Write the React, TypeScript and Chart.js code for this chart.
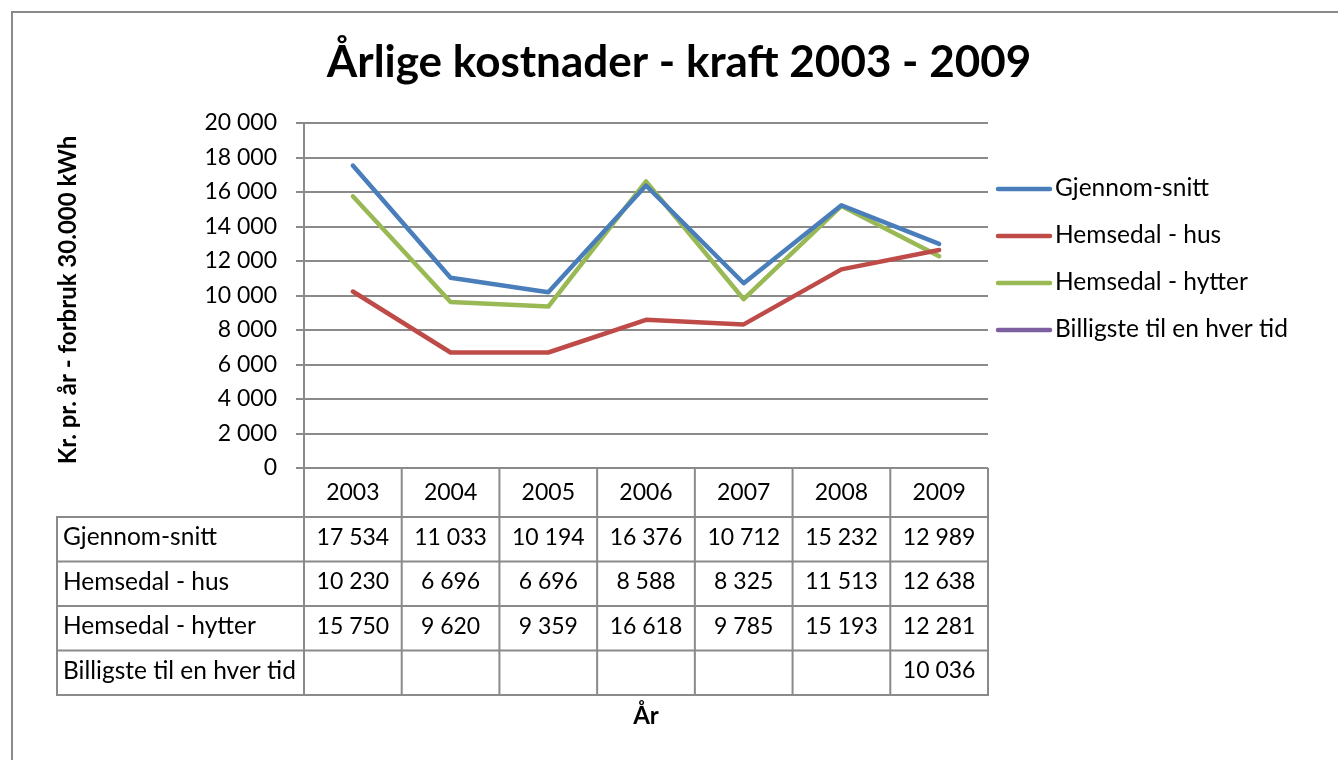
import React, { useEffect, useRef } from "react";
import { Chart, registerables } from "chart.js";

Chart.register(...registerables);

const TITLE = "Årlige kostnader - kraft 2003 - 2009";
const Y_TITLE = "Kr. pr. år - forbruk 30.000 kWh";
const X_TITLE = "År";
const YEARS = ["2003", "2004", "2005", "2006", "2007", "2008", "2009"];
const SERIES_NAMES = ["Gjennom-snitt", "Hemsedal - hus", "Hemsedal - hytter", "Billigste til en hver tid"];
const GJENNOMSNITT = [17534, 11033, 10194, 16376, 10712, 15232, 12989];
const HEMSEDAL_HUS = [10230, 6696, 6696, 8588, 8325, 11513, 12638];
const HEMSEDAL_HYTTER = [15750, 9620, 9359, 16618, 9785, 15193, 12281];
const BILLIGSTE: (number | null)[] = [null, null, null, null, null, null, 10036];
const COLORS = ["#4A7EBB", "#BE4B48", "#98B954", "#7D60A0"];
const Y_MIN = 0;
const Y_MAX = 20000;
const Y_STEP = 2000;

const FONT = "Lato, 'Open Sans', sans-serif";
const GRID = "#8a8a8a";

function fmt(v: number): string {
  const s = Math.round(v).toString();
  return s.replace(/\B(?=(\d{3})+(?!\d))/g, " ");
}

const decorPlugin = {
  id: "decor",
  beforeDraw(chart: any) {
    const ctx = chart.ctx;
    ctx.save();
    ctx.fillStyle = "#ffffff";
    ctx.fillRect(0, 0, chart.width, chart.height);
    ctx.strokeStyle = GRID;
    ctx.lineWidth = 2;
    ctx.strokeRect(12, 12, chart.width + 20, chart.height + 20);
    ctx.restore();
  },
  afterDraw(chart: any) {
    const ctx = chart.ctx;
    const xs = chart.scales.x;
    const area = chart.chartArea;
    const datasets = chart.data.datasets;
    ctx.save();
    // Title
    ctx.fillStyle = "#000";
    ctx.textAlign = "center";
    ctx.textBaseline = "middle";
    ctx.font = `bold 44px ${FONT}`;
    ctx.fillText(TITLE, 679, 63);

    // Y axis title
    ctx.save();
    ctx.translate(68, 300);
    ctx.rotate(-Math.PI / 2);
    ctx.font = `bold 24px ${FONT}`;
    ctx.fillText(Y_TITLE, 0, 0);
    ctx.restore();

    // X axis title
    ctx.font = `bold 24px ${FONT}`;
    ctx.fillText(X_TITLE, 646, 716);

    // Legend
    ctx.font = `24.5px ${FONT}`;
    const legendY = [189, 236, 283, 330];
    datasets.forEach((ds: any, i: number) => {
      const y = legendY[i];
      ctx.strokeStyle = ds.borderColor;
      ctx.lineWidth = 4.5;
      ctx.lineCap = "round";
      ctx.beginPath();
      ctx.moveTo(998, y);
      ctx.lineTo(1050, y);
      ctx.stroke();
      ctx.fillStyle = "#000";
      ctx.textAlign = "left";
      ctx.fillText(ds.label, 1055, y - 1);
    });

    // Data table
    const n = chart.data.labels.length;
    const colW = xs.getPixelForValue(1) - xs.getPixelForValue(0);
    const bounds: number[] = [];
    for (let i = 0; i <= n; i++) bounds.push(xs.getPixelForValue(0) - colW / 2 + i * colW);
    const headerTop = area.bottom;
    const headerBottom = 517;
    const rowH = 44.5;
    const tableLeft = 57;
    const rows = datasets.length;
    const tableBottom = headerBottom + rows * rowH;

    ctx.strokeStyle = GRID;
    ctx.lineWidth = 2;
    ctx.lineCap = "butt";
    ctx.beginPath();
    bounds.forEach((bx) => {
      ctx.moveTo(bx, headerTop);
      ctx.lineTo(bx, tableBottom);
    });
    ctx.moveTo(tableLeft, headerBottom);
    ctx.lineTo(tableLeft, tableBottom);
    for (let r = 0; r <= rows; r++) {
      const y = headerBottom + r * rowH;
      ctx.moveTo(tableLeft - 1, y);
      ctx.lineTo(bounds[n] + 1, y);
    }
    ctx.stroke();

    ctx.fillStyle = "#000";
    ctx.textBaseline = "middle";
    ctx.textAlign = "center";
    ctx.font = `23px ${FONT}`;
    chart.data.labels.forEach((lab: string, i: number) => {
      ctx.fillText(lab, xs.getPixelForValue(i), (headerTop + headerBottom) / 2);
    });
    datasets.forEach((ds: any, r: number) => {
      const cy = headerBottom + r * rowH + rowH / 2 - 2;
      ctx.textAlign = "left";
      ctx.font = `24.5px ${FONT}`;
      ctx.fillText(ds.label, 63, cy);
      ctx.textAlign = "center";
      ctx.font = `23px ${FONT}`;
      ds.data.forEach((v: number | null, i: number) => {
        if (v !== null && v !== undefined) ctx.fillText(fmt(v), xs.getPixelForValue(i), cy);
      });
    });
    ctx.restore();
  },
};

export default function App() {
  const ref = useRef<HTMLCanvasElement | null>(null);
  useEffect(() => {
    if (!ref.current) return;
    const seriesData = [GJENNOMSNITT, HEMSEDAL_HUS, HEMSEDAL_HYTTER, BILLIGSTE];
    const chart = new Chart(ref.current, {
      type: "line",
      data: {
        labels: YEARS,
        datasets: seriesData.map((d, i) => ({
          label: SERIES_NAMES[i],
          data: d,
          borderColor: COLORS[i],
          backgroundColor: COLORS[i],
          borderWidth: 4.5,
          pointRadius: 0,
          pointHoverRadius: 0,
          tension: 0,
          borderCapStyle: (i === 3 ? "butt" : "round") as any,
          borderJoinStyle: "round" as const,
          spanGaps: false,
        })),
      },
      options: {
        animation: false,
        responsive: false,
        maintainAspectRatio: false,
        layout: { padding: { left: 0, top: 123, right: 350, bottom: 292 } },
        plugins: {
          legend: { display: false },
          title: { display: false },
          tooltip: { enabled: false },
        },
        scales: {
          x: {
            type: "category",
            display: false,
            offset: true,
          },
          y: {
            min: Y_MIN,
            max: Y_MAX,
            afterFit(scale: any) {
              scale.width = 304;
            },
            ticks: {
              stepSize: Y_STEP,
              padding: 19,
              color: "#000",
              font: { family: FONT, size: 23 },
              callback: (v: any) => fmt(Number(v)),
            },
            grid: {
              color: GRID,
              lineWidth: 2,
              tickLength: 8,
              drawTicks: true,
            },
            border: { display: true, color: GRID, width: 2 },
          },
        },
      },
      plugins: [decorPlugin],
    });
    return () => chart.destroy();
  }, []);
  return (
    <div style={{ position: "fixed", left: 0, top: 0, width: 1338, height: 760, background: "#fff" }}>
      <canvas ref={ref} width={1338} height={760} style={{ display: "block" }} />
    </div>
  );
}
